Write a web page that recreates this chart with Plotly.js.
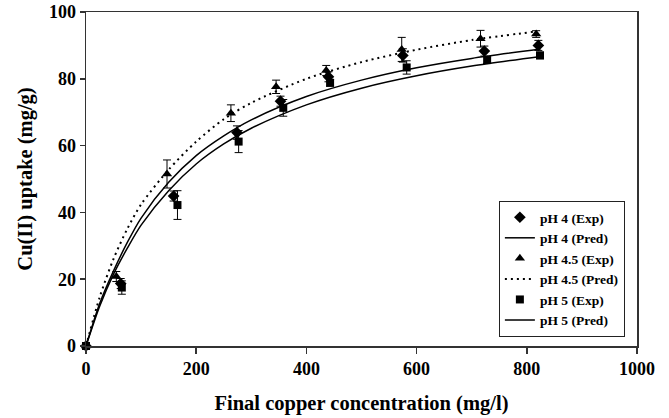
<!DOCTYPE html>
<html>
<head>
<meta charset="utf-8">
<script src="https://cdn.plot.ly/plotly-3.0.1.min.js"></script>
<style>html,body{margin:0;padding:0;background:#fff;}#chart{width:669px;height:418px;}</style>
</head>
<body>
<div id="chart"></div>
<script>
var ph4ExpX = [0, 63, 159, 274, 353, 440, 575, 723, 821];
var ph4ExpY = [0, 18.7, 44.9, 63.9, 73.3, 80.6, 87.0, 88.3, 90.0];
var ph4ExpErr = [0, 1.5, 1.5, 2.0, 1.5, 1.5, 2.0, 1.5, 1.5];

var ph45ExpX = [0, 55, 147, 263, 345, 436, 573, 716, 817];
var ph45ExpY = [0, 20.8, 51.5, 69.7, 77.6, 82.5, 88.8, 92.0, 93.4];
var ph45ExpErr = [0, 1.5, 4.2, 2.5, 2.0, 1.5, 3.6, 2.5, 1.0];

var ph5ExpX = [0, 65, 166, 277, 358, 443, 582, 728, 824];
var ph5ExpY = [0, 17.5, 42.2, 61.2, 71.3, 78.8, 83.4, 85.6, 87.0];
var ph5ExpErr = [0, 2.0, 4.3, 3.3, 2.5, 1.0, 2.0, 1.0, 1.0];

// Predicted curves
var predX = [0, 25, 50, 75, 100, 150, 200, 250, 300, 400, 500, 600, 700, 825];
var ph4PredY = [0, 12.8, 22.5, 31.0, 38.3, 49.0, 57.0, 62.9, 67.7, 74.7, 79.6, 83.3, 86.1, 88.9];
var ph5PredY = [0, 12.0, 21.5, 29.3, 36.2, 46.5, 54.5, 60.5, 65.2, 72.2, 77.2, 80.9, 83.8, 86.7];
var ph45PredX = [0, 25, 50, 75, 100, 150, 200, 250, 300, 400, 500, 600, 700, 818];
var ph45PredY = [0, 14.7, 26.1, 35.1, 42.4, 52.8, 61.2, 67.9, 72.8, 80.0, 85.0, 88.7, 91.6, 94.2];

var xTicks = [0, 200, 400, 600, 800, 1000];
var yTicks = [0, 20, 40, 60, 80, 100];

var F = "Liberation Serif";

function expTrace(name, x, y, err, sym, size) {
  return {
    type: "scatter", mode: "markers", name: name, x: x, y: y,
    marker: {symbol: sym, size: size, color: "#000"},
    error_y: {type: "data", array: err, visible: true, color: "#000", thickness: 1, width: 4},
    cliponaxis: false
  };
}
function predTrace(name, x, y, dash, w) {
  return {
    type: "scatter", mode: "lines", name: name, x: x, y: y,
    line: {color: "#000", width: w, dash: dash, shape: "spline", smoothing: 0.8},
    cliponaxis: false
  };
}

var data = [
  expTrace("pH 4 (Exp)", ph4ExpX, ph4ExpY, ph4ExpErr, "diamond", 9),
  predTrace("pH 4 (Pred)", predX, ph4PredY, "solid", 1.5),
  expTrace("pH 4.5 (Exp)", ph45ExpX, ph45ExpY, ph45ExpErr, "triangle-up", 9),
  predTrace("pH 4.5 (Pred)", ph45PredX, ph45PredY, "2px,4px", 2),
  expTrace("pH 5 (Exp)", ph5ExpX, ph5ExpY, ph5ExpErr, "square", 8),
  predTrace("pH 5 (Pred)", predX, ph5PredY, "solid", 1.5)
];

var layout = {
  width: 669, height: 418,
  margin: {l: 86, r: 32, t: 12, b: 72},
  paper_bgcolor: "#fff", plot_bgcolor: "#fff",
  font: {family: F, color: "#000", weight: "bold"},
  showlegend: true,
  legend: {
    x: 0.978, xanchor: "right", y: 0.027, yanchor: "bottom",
    bgcolor: "#fff", bordercolor: "#222", borderwidth: 1,
    font: {family: F, size: 13.5, color: "#000", weight: "bold"},
    tracegroupgap: 0
  },
  xaxis: {
    range: [0, 1000], tickvals: xTicks, ticktext: xTicks.map(String),
    ticks: "outside", ticklen: 6, tickwidth: 1.5, tickcolor: "#333",
    showline: true, linecolor: "#333", linewidth: 1.5, mirror: true,
    showgrid: false, zeroline: false,
    tickfont: {family: F, size: 18, color: "#000", weight: "bold"},
    title: {text: "Final copper concentration (mg/l)", standoff: 17,
            font: {family: F, size: 20.5, color: "#000", weight: "bold"}},
    automargin: false
  },
  yaxis: {
    range: [0, 100], tickvals: yTicks, ticktext: yTicks.map(String),
    ticks: "outside", ticklen: 5, tickwidth: 1.5, tickcolor: "#333",
    showline: true, linecolor: "#333", linewidth: 1.5, mirror: true,
    showgrid: false, zeroline: false,
    tickfont: {family: F, size: 18, color: "#000", weight: "bold"},
    title: {text: "Cu(II) uptake (mg/g)", standoff: 10,
            font: {family: F, size: 20.5, color: "#000", weight: "bold"}},
    automargin: false
  }
};

Plotly.newPlot("chart", data, layout, {staticPlot: true, displayModeBar: false});
</script>
</body>
</html>
